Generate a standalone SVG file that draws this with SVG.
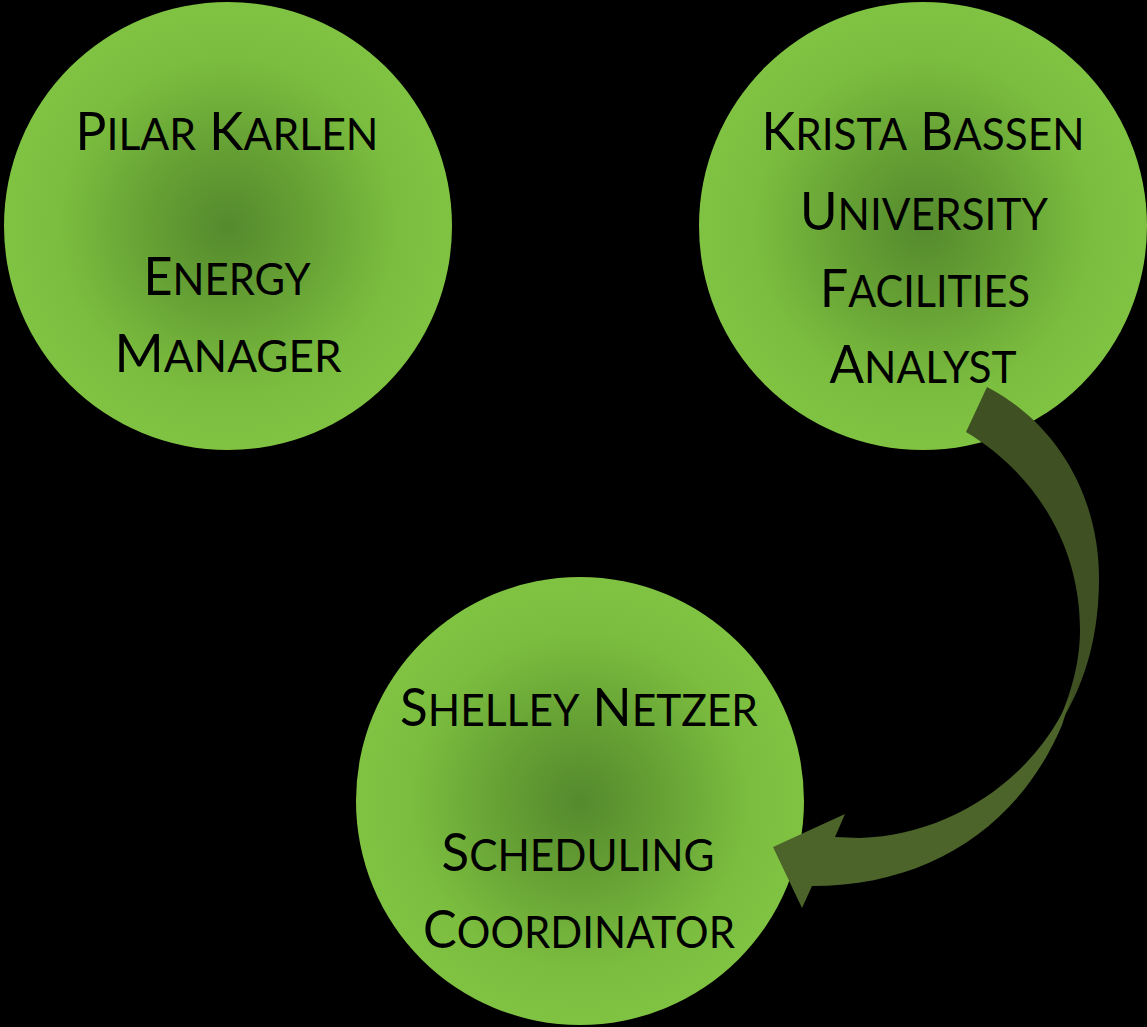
<svg xmlns="http://www.w3.org/2000/svg" width="1147" height="1027" viewBox="0 0 1147 1027">
<defs>
<radialGradient id="g" cx="0.5" cy="0.5" r="0.5">
<stop offset="0" stop-color="#558a2d"/>
<stop offset="0.35" stop-color="#65a034"/>
<stop offset="0.75" stop-color="#7bbd3f"/>
<stop offset="1" stop-color="#80c342"/>
</radialGradient>
</defs>
<style>
.c{fill:url(#g)}
.t{font-family:Lato,"Open Sans","Liberation Sans",sans-serif;fill:#000;text-anchor:middle;font-size:53px}
.s{font-size:44px}
.back{fill:#3f5022}
.front{fill:#4c6429}
</style>
<rect width="1147" height="1027" fill="#000"/>
<g id="pilar">
<circle class="c" cx="228" cy="226" r="224"/>
<text class="t" x="227" y="150" textLength="303" lengthAdjust="spacingAndGlyphs">P<tspan class="s">ILAR</tspan> K<tspan class="s">ARLEN</tspan></text>
<text class="t" x="227" y="295" textLength="167" lengthAdjust="spacingAndGlyphs">E<tspan class="s">NERGY</tspan></text>
<text class="t" x="228" y="372" textLength="227" lengthAdjust="spacingAndGlyphs">M<tspan class="s">ANAGER</tspan></text>
</g>
<g id="krista">
<circle class="c" cx="923" cy="226" r="224"/>
<text class="t" x="923" y="150" textLength="323" lengthAdjust="spacingAndGlyphs">K<tspan class="s">RISTA</tspan> B<tspan class="s">ASSEN</tspan></text>
<text class="t" x="924" y="230" textLength="248" lengthAdjust="spacingAndGlyphs">U<tspan class="s">NIVERSITY</tspan></text>
<text class="t" x="925" y="307" textLength="210" lengthAdjust="spacingAndGlyphs">F<tspan class="s">ACILITIES</tspan></text>
<text class="t" x="923" y="383" textLength="187" lengthAdjust="spacingAndGlyphs">A<tspan class="s">NALYST</tspan></text>
</g>
<g id="shelley">
<circle class="c" cx="580" cy="801" r="224"/>
<text class="t" x="579" y="726" textLength="358" lengthAdjust="spacingAndGlyphs">S<tspan class="s">HELLEY</tspan> N<tspan class="s">ETZER</tspan></text>
<text class="t" x="578" y="871" textLength="273" lengthAdjust="spacingAndGlyphs">S<tspan class="s">CHEDULING</tspan></text>
<text class="t" x="579" y="948" textLength="312" lengthAdjust="spacingAndGlyphs">C<tspan class="s">OORDINATOR</tspan></text>
</g>
<g id="connectors">
<path class="back" d="M987,387 C1060,425 1099,500 1099,578 C1099,650 1078,700 1048,742 C1066,710 1080,670 1080,630 C1080,540 1030,470 966,432 Z"/>
<path class="front" d="M1080,668 C1056,760 965,835 860,838 L835,837 L845,814 L773,847 L802,908 L812,886 C930,886 1020,825 1062,725 Z"/>
</g>
</svg>
